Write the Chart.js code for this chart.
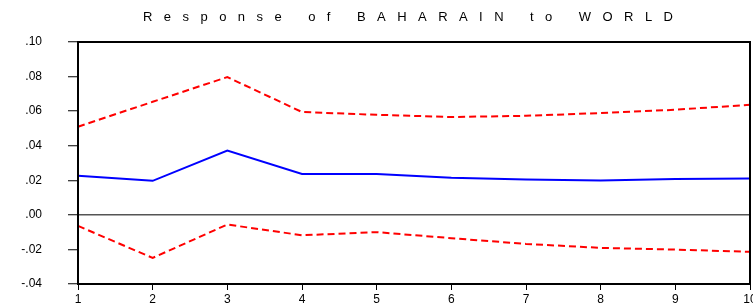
<!DOCTYPE html>
<html lang="en">
<head>
    <meta charset="UTF-8">
    <title>Response of BAHARAIN to WORLD</title>
    <script src="https://cdn.jsdelivr.net/npm/chart.js"></script>
    <style>
        body { margin: 0; background: #fff; }
        #wrap { width: 753px; height: 307px; }
    </style>
</head>
<body>
<div id="wrap"><canvas id="irfChart"></canvas></div>

<script>
const periods = ["1", "2", "3", "4", "5", "6", "7", "8", "9", "10"];
const response = [0.0226, 0.0197, 0.0372, 0.0237, 0.0236, 0.0214, 0.0204, 0.0199, 0.0207, 0.0210];
const upperBand = [0.0510, 0.0654, 0.0797, 0.0595, 0.0579, 0.0566, 0.0573, 0.0589, 0.0608, 0.0637];
const lowerBand = [-0.0064, -0.0249, -0.0056, -0.0118, -0.0100, -0.0135, -0.0168, -0.0191, -0.0201, -0.0214];
const yTicks = [-0.04, -0.02, 0.00, 0.02, 0.04, 0.06, 0.08, 0.10];
const titleText = "Response of BAHARAIN to WORLD";

// EViews style labels: ".02", "-.02"
function fmt(v) {
    let s = Math.abs(v).toFixed(2).replace(/^0/, "");
    return (v < -1e-9 ? "-" : "") + s;
}

// frame around the plot and the spaced-out title
const framePlugin = {
    id: "frame",
    afterDraw(chart) {
        const { ctx, chartArea: a } = chart;
        ctx.save();
        ctx.strokeStyle = "#000";
        ctx.lineWidth = 2;
        ctx.strokeRect(a.left, a.top, a.right - a.left, a.bottom - a.top);

        ctx.font = "13px 'Liberation Sans', Arial, sans-serif";
        ctx.fillStyle = "#000";
        ctx.textBaseline = "middle";
        ctx.textAlign = "left";
        const target = 530;
        ctx.letterSpacing = "0px";
        const natural = ctx.measureText(titleText).width;
        const spacing = (target - natural) / (titleText.length - 1);
        ctx.letterSpacing = spacing + "px";
        ctx.fillText(titleText, 143, 17);
        ctx.restore();
    }
};

const ctx = document.getElementById("irfChart").getContext("2d");
new Chart(ctx, {
    type: "line",
    data: {
        labels: periods,
        datasets: [
            {
                data: response,
                borderColor: "#0000ff",
                borderWidth: 2,
                pointRadius: 0,
                tension: 0
            },
            {
                data: upperBand,
                borderColor: "#ff0000",
                borderWidth: 2,
                borderDash: [7, 4],
                pointRadius: 0,
                tension: 0
            },
            {
                data: lowerBand,
                borderColor: "#ff0000",
                borderWidth: 2,
                borderDash: [7, 4],
                pointRadius: 0,
                tension: 0
            }
        ]
    },
    options: {
        responsive: true,
        maintainAspectRatio: false,
        animation: false,
        layout: { padding: { top: 42, right: 3, left: 0, bottom: 0 } },
        plugins: {
            legend: { display: false },
            title: { display: false },
            tooltip: { enabled: false }
        },
        scales: {
            x: {
                offset: false,
                grid: {
                    drawOnChartArea: false,
                    tickLength: 6,
                    tickColor: "#000",
                    tickWidth: 1
                },
                border: { color: "#000", width: 2 },
                ticks: {
                    color: "#000",
                    padding: 2,
                    maxRotation: 0,
                    autoSkip: false,
                    font: { family: "'Liberation Sans', Arial, sans-serif", size: 12 }
                },
                afterFit(scale) {
                    scale.height = 23;
                    scale.paddingRight = 3;
                }
            },
            y: {
                min: -0.04,
                max: 0.10,
                afterBuildTicks(scale) { scale.ticks = yTicks.map(v => ({ value: v })); },
                grid: {
                    color: c => (c.tick && Math.abs(c.tick.value) < 1e-9 ? "#555" : "rgba(0,0,0,0)"),
                    lineWidth: 1.5,
                    tickLength: 10,
                    tickColor: "#000",
                    tickWidth: 1
                },
                border: { color: "#000", width: 2 },
                ticks: {
                    color: "#000",
                    padding: 26,
                    callback: v => fmt(v),
                    font: { family: "'Liberation Sans', Arial, sans-serif", size: 12 }
                },
                afterFit(scale) {
                    scale.width = 78;
                    // tick padding would otherwise push the plot bottom up
                    scale.paddingTop = 0;
                    scale.paddingBottom = 0;
                }
            }
        }
    },
    plugins: [framePlugin]
});
</script>
</body>
</html>
